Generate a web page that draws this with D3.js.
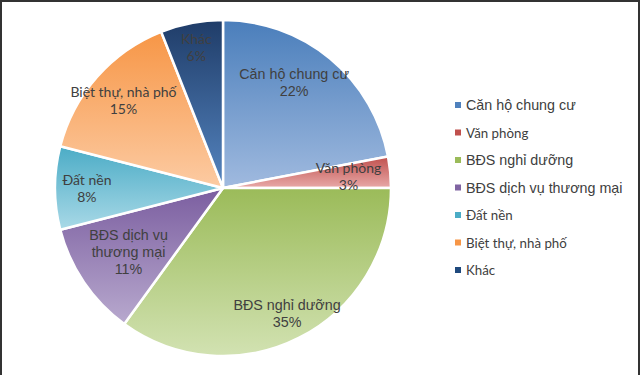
<!DOCTYPE html>
<html><head><meta charset="utf-8">
<script src="https://cdn.jsdelivr.net/npm/d3@7"></script>
<style>body{margin:0;background:#fff}</style>
</head><body>
<svg id="c" width="640" height="384"></svg>
<script>
const categories = ["Căn hộ chung cư","Văn phòng","BĐS nghỉ dưỡng","BĐS dịch vụ thương mại","Đất nền","Biệt thự, nhà phố","Khác"];
const values = [22,3,35,11,8,15,6];
const labelLines = [["Căn hộ chung cư","22%"],["Văn phòng","3%"],["BĐS nghỉ dưỡng","35%"],["BĐS dịch vụ","thương mại","11%"],["Đất nền","8%"],["Biệt thự, nhà phố","15%"],["Khác","6%"]];
const topColors = ["#4a7ebb","#c0504d","#9bbb59","#7b5ea0","#4bacc6","#f79646","#1f3c68"];
const bottomColors = ["#a0badf","#e8a9a8","#d2e2b2","#b8a9ce","#a9d9e7","#fccba3","#5585c0"];
const legendColors = ["#4f81bd","#c0504d","#9bbb59","#8064a2","#4bacc6","#f79646","#1f497d"];
const arialLike = [true,false,true,true,false,false,false];
const labelRadius = [0.76,0.75,0.84,0.68,0.81,0.79,0.85];
const labelAngleShift = [-0.1,0,0,0,0,0,0];

const svg = d3.select("#c");
const cx = 223, cy = 188, R = 168;
const defs = svg.append("defs");
categories.forEach((c,i)=>{
  const g = defs.append("linearGradient").attr("id","g"+i).attr("x1",0).attr("y1",0).attr("x2",0).attr("y2",1);
  g.append("stop").attr("offset","0%").attr("stop-color",topColors[i]);
  g.append("stop").attr("offset","100%").attr("stop-color",bottomColors[i]);
});

svg.append("path").attr("d","M1,375V1H639V375").attr("fill","none").attr("stroke","#333").attr("stroke-width",2);

const pie = d3.pie().sort(null).value(d=>d);
const arcs = pie(values);
const arc = d3.arc().innerRadius(0).outerRadius(R);
const g = svg.append("g").attr("transform",`translate(${cx},${cy})`);
g.selectAll("path.s").data(arcs).join("path").attr("class","s")
  .attr("d",arc).attr("fill",(d,i)=>`url(#g${i})`)
  .attr("stroke","#fff").attr("stroke-width",2.5).attr("stroke-linejoin","round");

const fontA = "'Liberation Sans', Arial, sans-serif";
const fontC = "Lato, 'Open Sans', sans-serif";
arcs.forEach((d,i)=>{
  const a = (d.startAngle+d.endAngle)/2 + labelAngleShift[i];
  const r = R*labelRadius[i];
  const x = Math.sin(a)*r, y = -Math.cos(a)*r;
  const lines = labelLines[i];
  const lh = 17;
  const t = g.append("text").attr("text-anchor","middle")
    .attr("font-family", arialLike[i]?fontA:fontC)
    .attr("font-size", arialLike[i]?14.3:14).attr("fill","#404040");
  lines.forEach((l,k)=>{
    t.append("tspan").attr("x",x).attr("y",y+(k-(lines.length-1)/2)*lh+5).text(l);
  });
});

const lg = svg.append("g").attr("transform","translate(455,105)");
categories.forEach((c,i)=>{
  const row = lg.append("g").attr("transform",`translate(0,${i*27.5})`);
  row.append("rect").attr("x",0).attr("y",-3).attr("width",6).attr("height",6).attr("fill",legendColors[i]);
  row.append("text").attr("x",11).attr("y",5)
    .attr("font-family", arialLike[i]?fontA:fontC)
    .attr("font-size", arialLike[i]?14.3:13.3).attr("fill","#404040").text(c);
});
</script>
</body></html>
